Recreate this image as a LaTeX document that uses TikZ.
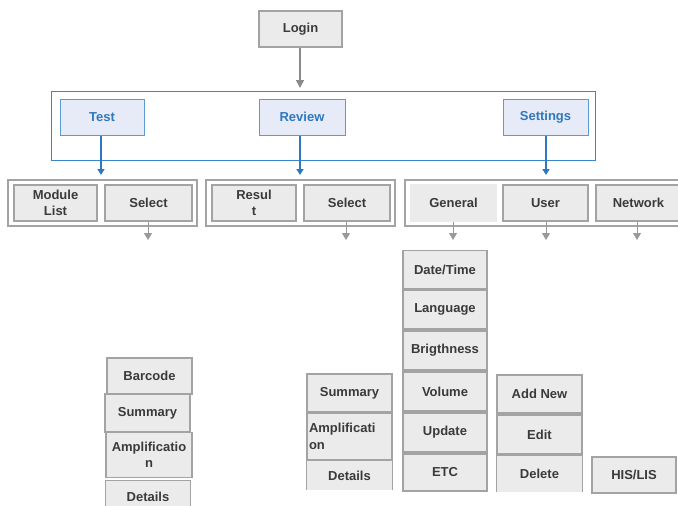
\documentclass[tikz,border=0pt]{standalone}
\usepackage{fontspec}
\setmainfont{Liberation Sans}
\usetikzlibrary{arrows.meta}
\definecolor{gfill}{HTML}{EBEBEB}
\definecolor{gline}{HTML}{A3A3A3}
\definecolor{gtext}{HTML}{3A3A3A}
\definecolor{bfill}{HTML}{E6EBF7}
\definecolor{bline}{HTML}{5B9BD5}
\definecolor{btext}{HTML}{2E78C0}
\definecolor{bouter}{HTML}{3A86C8}
\definecolor{garrow}{HTML}{999999}
\begin{document}
\begin{tikzpicture}[x=1pt,y=-1pt,
  every node/.style={font=\fontsize{13}{16.5}\selectfont\bfseries, inner sep=0pt, text=gtext},
  gbox/.style={draw=gline, fill=gfill, line width=1.3pt, align=center},
  gopen/.style={fill=gfill, align=center},
  cont/.style={draw=gline, line width=1.3pt, fill=white},
  bbox/.style={draw=bline, fill=bfill, line width=1pt, text=btext},
  barrow/.style={draw=btext, line width=1.5pt, -{Triangle[width=7pt,length=6pt]}},
  garr/.style={draw=garrow, line width=1pt, -{Triangle[width=8pt,length=7pt]}},
  sides/.style={draw=gline, line width=1.3pt}
]
\useasboundingbox (0,0) rectangle (678,506);
% Login
\node[gbox, minimum width=83pt, minimum height=36pt] (login) at (300.5,29) {Login};
\coordinate (loginend) at (300,88);
\draw[draw=garrow!90!black, line width=1.6pt, -{Triangle[width=8pt,length=8pt]}] (login.south -| loginend) -- (loginend);
% menu
\node[draw=bouter, line width=1pt, minimum width=544pt, minimum height=69pt] (menu) at (323,125.5) {};
\node[bbox, minimum width=84pt, minimum height=36pt] (test) at (102,117) {Test};
\node[bbox, minimum width=86pt, minimum height=36pt] (review) at (302,117) {Review};
\node[bbox, minimum width=85pt, minimum height=36pt] (settings) at (545.5,117) {Settings};
\coordinate (t1) at (101,175);
\coordinate (t2) at (300,175);
\coordinate (t3) at (546,175);
\draw[barrow] (test.south -| t1) -- (t1);
\draw[barrow] (review.south -| t2) -- (t2);
\draw[barrow] (settings.south -| t3) -- (t3);
% containers
\node[cont, minimum width=189pt, minimum height=46pt] (c1) at (102.5,203) {};
\node[gbox, minimum width=83pt, minimum height=36pt] (module) at (55.5,203) {Module\\List};
\node[gbox, minimum width=87pt, minimum height=36pt] (sel1) at (148.5,203) {Select};
\node[cont, minimum width=189pt, minimum height=46pt] (c2) at (300.5,203) {};
\node[gbox, minimum width=84pt, minimum height=36pt] (result) at (254,203) {Resul\\t};
\node[gbox, minimum width=86pt, minimum height=36pt] (sel2) at (347,203) {Select};
\node[cont, minimum width=277pt, minimum height=46pt] (c3) at (543.5,203) {};
\node[gopen, minimum width=87pt, minimum height=38pt] (general) at (453.5,203) {General};
\node[gbox, minimum width=85pt, minimum height=36pt] (user) at (545.5,203) {User};
\node[gbox, minimum width=85pt, minimum height=36pt] (network) at (638.5,203) {Network};
% small arrows
\coordinate (a1) at (148,240);
\coordinate (a2) at (346,240);
\coordinate (a3) at (453,240);
\coordinate (a4) at (546,240);
\coordinate (a5) at (637,240);
\draw[garr] (sel1.south -| a1) -- (a1);
\draw[garr] (sel2.south -| a2) -- (a2);
\draw[garr] (general.south -| a3) -- (a3);
\draw[garr] (user.south -| a4) -- (a4);
\draw[garr] (network.south -| a5) -- (a5);
% Test column
\node[gbox, minimum width=85pt, minimum height=36pt] (barcode) at (149.5,376) {Barcode};
\node[gbox, minimum width=85pt, minimum height=38pt] (tsum) at (147.5,413) {Summary};
\node[gbox, minimum width=86pt, minimum height=45pt] (tamp) at (149,455) {Amplificatio\\n};
\node[gopen, minimum width=84pt, minimum height=32pt] (tdet) at (148,497) {Details};
\draw[sides] (tdet.south west) |- (tdet.north east) -- (tdet.south east);
% Review column
\node[gbox, minimum width=85pt, minimum height=38pt] (rsum) at (349.5,393) {Summary};
\node[gbox, minimum width=85pt, minimum height=47pt, align=left, text width=81pt] (ramp) at (349.5,436.5) {Amplificati\\on};
\node[gopen, minimum width=85pt, minimum height=29pt] (rdet) at (349.5,475.5) {Details};
\draw[sides] (rdet.south west) |- (rdet.north east) -- (rdet.south east);
% General column
\node[gbox, minimum width=84pt, minimum height=38pt] (date) at (445,269.5) {Date/Time};
\node[gbox, minimum width=84pt, minimum height=39pt] (lang) at (445,309.5) {Language};
\node[gbox, minimum width=84pt, minimum height=39pt] (bright) at (445,350.5) {Brigthness};
\node[gbox, minimum width=84pt, minimum height=39pt] (vol) at (445,391.5) {Volume};
\node[gbox, minimum width=84pt, minimum height=39pt] (upd) at (445,432.5) {Update};
\node[gbox, minimum width=84pt, minimum height=37pt] (etc) at (445,472.5) {ETC};
% User column
\node[gbox, minimum width=85pt, minimum height=38pt] (add) at (539.5,394) {Add New};
\node[gbox, minimum width=85pt, minimum height=39pt] (edit) at (539.5,434.5) {Edit};
\node[gopen, minimum width=85pt, minimum height=36pt] (del) at (539.5,474) {Delete};
\draw[sides] (del.south west) |- (del.north east) -- (del.south east);
% Network column
\node[gbox, minimum width=84pt, minimum height=36pt] (his) at (634,475) {HIS/LIS};
\end{tikzpicture}
\end{document}
